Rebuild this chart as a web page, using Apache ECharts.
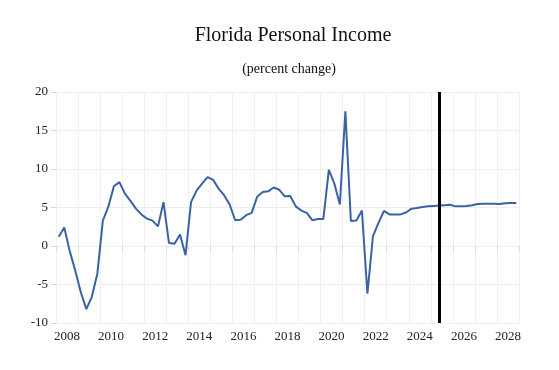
<!DOCTYPE html>
<html>
<head>
<meta charset="utf-8">
<script src="https://cdn.jsdelivr.net/npm/echarts@6/dist/echarts.min.js"></script>
<style>html,body{margin:0;padding:0;background:#fff}#c{width:559px;height:370px}</style>
</head>
<body>
<div id="c"></div>
<script>
var startYear = 2008;
var endYear = 2028;
var forecastStart = 2025.375; // 2025 Q2
var yTicks = [-10, -5, 0, 5, 10, 15, 20];
var xLabelYears = [2008, 2010, 2012, 2014, 2016, 2018, 2020, 2022, 2024, 2026, 2028];
var values = [
  1.2, 2.4, -0.7, -3.2,
  -6.0, -8.2, -6.6, -3.6,
  3.3, 5.1, 7.75, 8.3,
  6.8, 5.85, 4.85, 4.1,
  3.55, 3.3, 2.55, 5.7,
  0.4, 0.3, 1.5, -1.2,
  5.7, 7.2, 8.1, 8.95,
  8.6, 7.45, 6.6, 5.4,
  3.35, 3.4, 4.0, 4.3,
  6.4, 7.0, 7.1, 7.6,
  7.3, 6.45, 6.5, 5.15,
  4.6, 4.3, 3.35, 3.5,
  3.5, 9.9, 8.1, 5.4,
  17.5, 3.25, 3.3, 4.6,
  -6.2, 1.25, 3.0, 4.55,
  4.1, 4.1, 4.1, 4.35,
  4.85, 4.95, 5.05, 5.15,
  5.2, 5.25, 5.3, 5.35,
  5.15, 5.15, 5.2, 5.3,
  5.45, 5.5, 5.5, 5.5,
  5.45, 5.55, 5.6, 5.6
];

// quarter midpoints as decimal years
var data = values.map(function (v, i) {
  var yr = startYear + Math.floor(i / 4);
  var q = i % 4;
  return [yr + (q + 0.5) / 4, v];
});

var serif = 'Liberation Serif, Times New Roman, serif';
var chart = echarts.init(document.getElementById('c'));
chart.setOption({
  animation: false,
  backgroundColor: '#fff',
  title: [
    { text: 'Florida Personal Income', left: 288, top: 21, textAlign: 'center',
      textStyle: { fontFamily: serif, fontSize: 20, fontWeight: 'normal', color: '#111' } },
    { text: '(percent change)', left: 284, top: 57, textAlign: 'center',
      textStyle: { fontFamily: serif, fontSize: 14, fontWeight: 'normal', color: '#111' } }
  ],
  grid: { left: 56, right: 40, top: 92, bottom: 47 },
  xAxis: [
    {
      type: 'value', min: startYear, max: endYear + 1, interval: 1,
      axisLine: { show: false },
      axisTick: { show: true, length: 5, lineStyle: { color: '#d8d8d8' } },
      axisLabel: { show: false },
      splitLine: { show: true, lineStyle: { color: '#f1f1f1', width: 1 } }
    },
    {
      type: 'value', position: 'bottom', min: startYear - 0.5, max: endYear + 0.5, interval: 0.5,
      axisLine: { show: false }, axisTick: { show: false }, splitLine: { show: false },
      axisLabel: {
        margin: 7, fontFamily: serif, fontSize: 13, color: '#222',
        formatter: function (v) { return xLabelYears.indexOf(v) >= 0 ? String(v) : ''; }
      }
    }
  ],
  yAxis: {
    type: 'value', min: yTicks[0], max: yTicks[yTicks.length - 1], interval: 5,
    axisLine: { show: false },
    axisTick: { show: true, length: 5, lineStyle: { color: '#d8d8d8' } },
    axisLabel: { margin: 8, fontFamily: serif, fontSize: 13, color: '#222' },
    splitLine: { show: true, lineStyle: { color: '#eeeeee', width: 1 } }
  },
  series: [{
    type: 'line', xAxisIndex: 0, data: data, showSymbol: false, symbol: 'none',
    lineStyle: { color: '#3b63a3', width: 2 },
    markLine: {
      silent: true, symbol: ['none', 'none'], label: { show: false },
      lineStyle: { color: '#000', width: 3, type: 'solid' },
      data: [{ xAxis: forecastStart }]
    }
  }]
});
</script>
</body>
</html>
